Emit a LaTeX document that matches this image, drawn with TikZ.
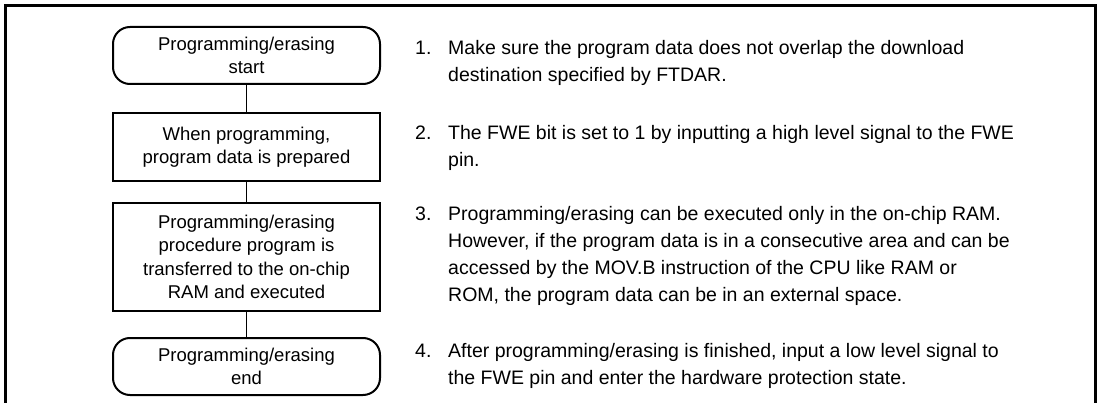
\documentclass[tikz,border=0pt]{standalone}
\usepackage{fontspec}
\setmainfont{Liberation Sans}
\usetikzlibrary{positioning}

\begin{document}
\begin{tikzpicture}[
  x=1pt,y=-1pt,
  terminal/.style={rectangle,rounded corners=17pt,draw,line width=2pt,minimum width=267pt,minimum height=57pt,inner sep=0pt,align=center,font=\fontsize{18.5}{23.5}\selectfont},
  process/.style={rectangle,draw,line width=2pt,minimum width=267pt,inner sep=0pt,align=center,font=\fontsize{18.5}{23.5}\selectfont},
  link/.style={line width=1.2pt},
  note/.style={anchor=base west,inner sep=0pt,font=\fontsize{19.5}{27}\selectfont}
]
\useasboundingbox (0,0) rectangle (1102,403);
\draw[line width=3pt] (5,403) -- (5,6) -- (1095,6) -- (1095,403);

% flow
\node[terminal] (start) at (246.5,55.5) {Programming/erasing\\start};
\node[process,minimum height=68pt,below=27pt of start] (prep) {When programming,\\program data is prepared};
\node[process,minimum height=108pt,below=20pt of prep] (xfer) {Programming/erasing\\procedure program is\\transferred to the on-chip\\RAM and executed};
\node[terminal,below=25pt of xfer] (finish) {Programming/erasing\\end};
\draw[link] (start) -- (prep);
\draw[link] (prep) -- (xfer);
\draw[link] (xfer) -- (finish);

% notes
\node[note] (note1) at (415,55) {\begin{tabular}[t]{@{}p{33pt}@{}l@{}}
1. & Make sure the program data does not overlap the download\\
   & destination specified by FTDAR.
\end{tabular}};
\node[note] (note2) at (415,140) {\begin{tabular}[t]{@{}p{33pt}@{}l@{}}
2. & The FWE bit is set to 1 by inputting a high level signal to the FWE\\
   & pin.
\end{tabular}};
\node[note] (note3) at (415,221) {\begin{tabular}[t]{@{}p{33pt}@{}l@{}}
3. & Programming/erasing can be executed only in the on-chip RAM.\\
   & However, if the program data is in a consecutive area and can be\\
   & accessed by the MOV.B instruction of the CPU like RAM or\\
   & ROM, the program data can be in an external space.
\end{tabular}};
\node[note] (note4) at (415,357) {\begin{tabular}[t]{@{}p{33pt}@{}l@{}}
4. & After programming/erasing is finished, input a low level signal to\\
   & the FWE pin and enter the hardware protection state.
\end{tabular}};
\end{tikzpicture}
\end{document}
